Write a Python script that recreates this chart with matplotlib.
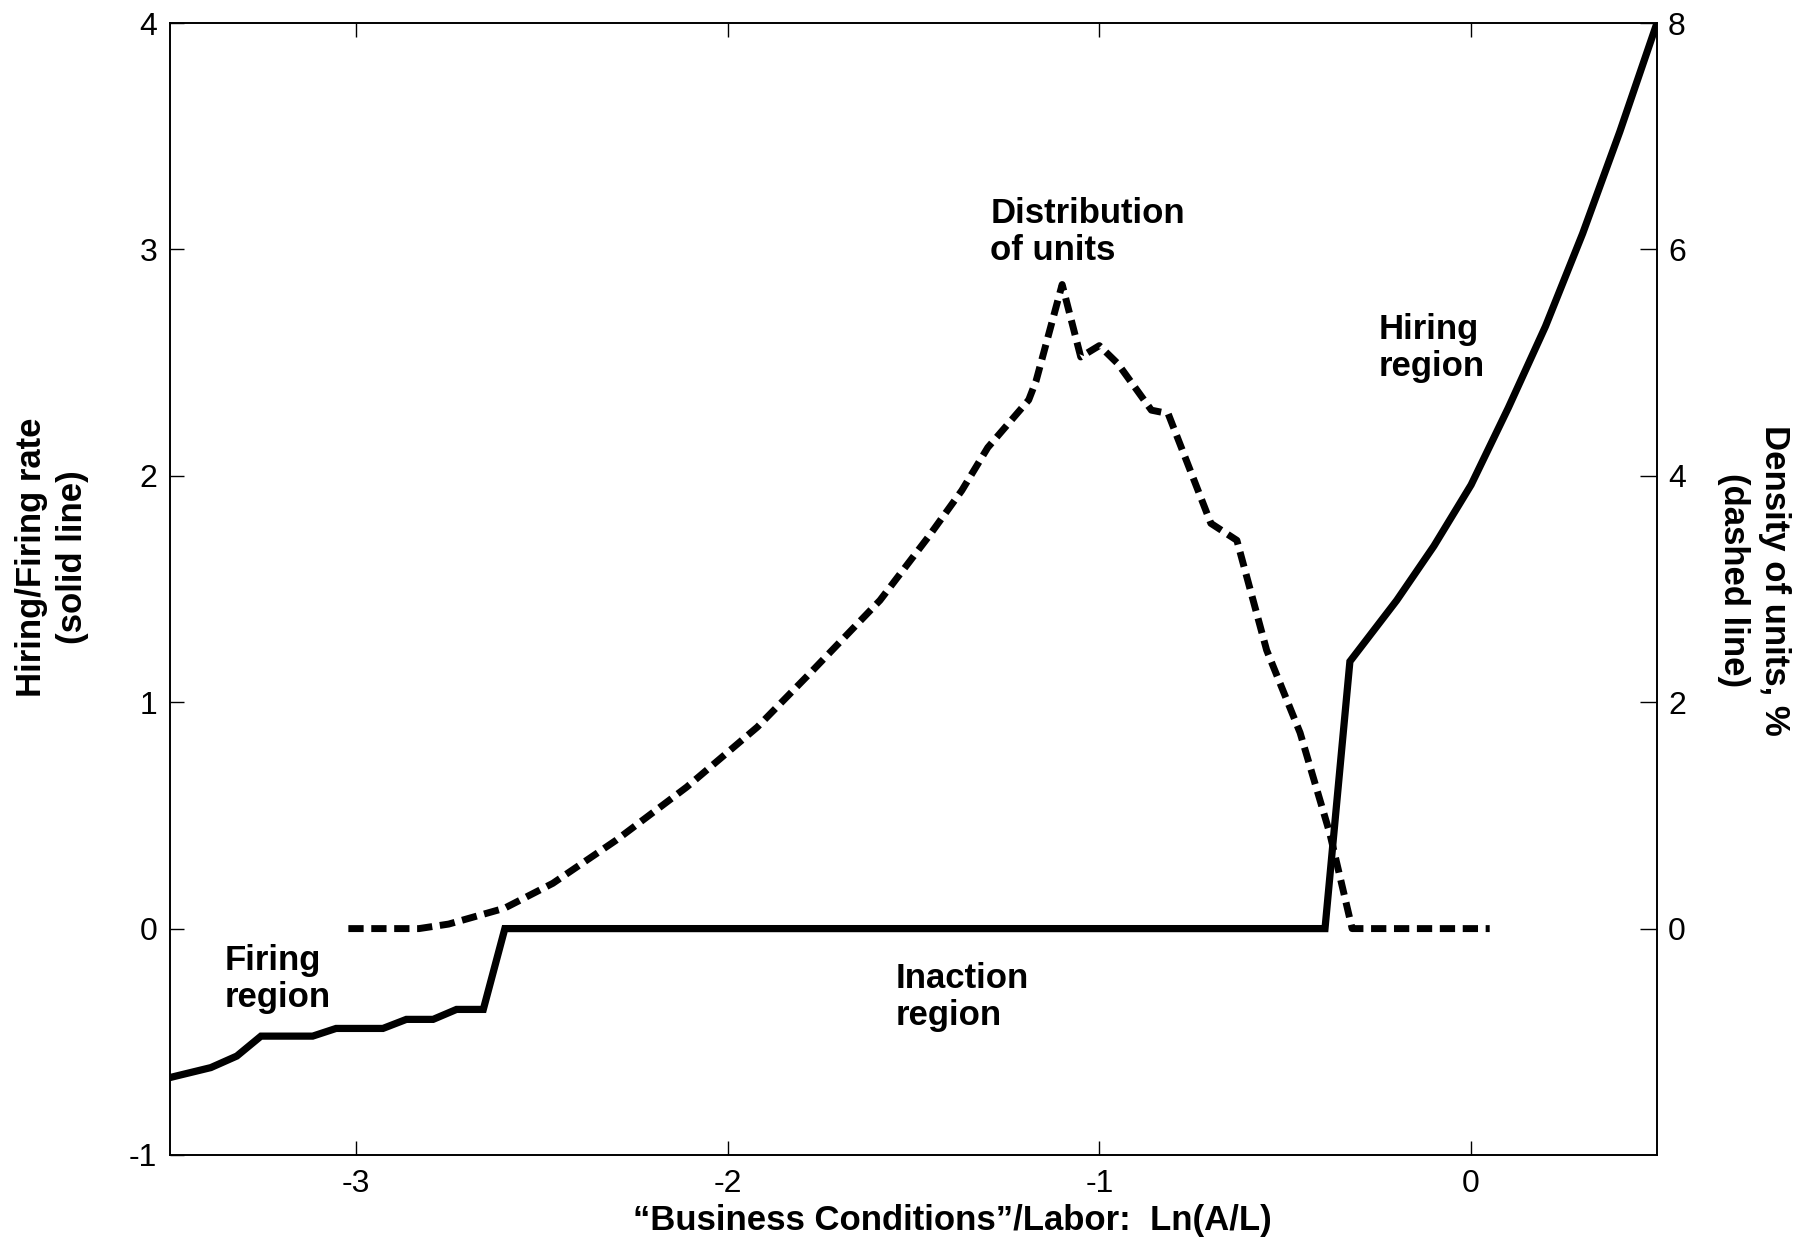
import matplotlib
matplotlib.use("Agg")
import matplotlib.pyplot as plt

plt.rcParams['font.family'] = ['Liberation Sans', 'DejaVu Sans']
plt.rcParams['axes.unicode_minus'] = False

# Hiring/firing rate (solid line, left axis)
rate_x = [-3.5, -3.39, -3.32, -3.255, -3.116, -3.053, -2.927, -2.864, -2.792, -2.729,
          -2.657, -2.599, -0.393, -0.326, -0.2, -0.1, 0.0, 0.1, 0.2, 0.3, 0.4, 0.5]
rate_y = [-0.658, -0.614, -0.563, -0.475, -0.475, -0.441, -0.441, -0.401, -0.401, -0.357,
          -0.357, 0.0, 0.0, 1.18, 1.45, 1.69, 1.96, 2.30, 2.66, 3.07, 3.52, 4.0]

# Density of units in % (dashed line, right axis)
dens_x = [-3.02, -2.83, -2.75, -2.60, -2.47, -2.30, -2.11, -1.92, -1.78, -1.59, -1.46,
          -1.37, -1.30, -1.19, -1.17, -1.10, -1.05, -1.00, -0.95, -0.86, -0.815, -0.70,
          -0.63, -0.55, -0.46, -0.38, -0.32, 0.05]
dens_y = [0.0, 0.0, 0.04, 0.18, 0.40, 0.78, 1.25, 1.78, 2.25, 2.90, 3.46,
          3.87, 4.25, 4.67, 4.84, 5.69, 5.05, 5.15, 4.99, 4.58, 4.55, 3.58,
          3.43, 2.46, 1.73, 0.84, 0.0, 0.0]

x_ticks = [-3, -2, -1, 0]
left_ticks = [-1, 0, 1, 2, 3, 4]
right_ticks = [0, 2, 4, 6, 8]

fig = plt.figure(figsize=(17.96, 12.45), dpi=100)
ax = fig.add_axes([0.0946, 0.0723, 0.8280, 0.9092])
ax2 = ax.twinx()

ax.plot(rate_x, rate_y, color='black', linewidth=5.2, solid_joinstyle='miter')
ax2.plot(dens_x, dens_y, color='black', linewidth=5, linestyle=(0, (2.2, 1.1)))

ax.set_xlim(-3.5, 0.5)
ax.set_ylim(-1, 4)
ax2.set_ylim(-2, 8)
ax.set_xticks(x_ticks)
ax.set_yticks(left_ticks)
ax2.set_yticks(right_ticks)

ax.tick_params(axis='x', direction='in', top=True, length=10, width=1, labelsize=23, pad=10)
ax.tick_params(axis='y', direction='in', length=10, width=1, labelsize=23, pad=9)
ax2.tick_params(axis='y', direction='in', length=12, width=1, labelsize=23, pad=8)
for a in (ax, ax2):
    for s in a.spines.values():
        s.set_linewidth(1.2)

ax.set_xlabel("\u201cBusiness Conditions\u201d/Labor:  Ln(A/L)", fontsize=25,
              fontweight='bold')
ax.set_ylabel("Hiring/Firing rate\n(solid line)", fontsize=25, fontweight='bold',
              linespacing=1.3)
ax2.set_ylabel("Density of units, %\n(dashed line)", fontsize=25, fontweight='bold',
               rotation=-90, linespacing=1.3)
ax.xaxis.set_label_coords(0.526, -0.043)
ax.yaxis.label.set_va('center')
ax.yaxis.set_label_coords(-0.0795, 0.528)
ax2.yaxis.label.set_va('center')
ax2.yaxis.set_label_coords(1.065, 0.508)

txt = dict(fontsize=25, fontweight='bold', ha='left', va='center', linespacing=1.15)
ax.text(-1.293, 3.076, "Distribution\nof units", **txt)
ax.text(-0.249, 2.566, "Hiring\nregion", **txt)
ax.text(-3.352, -0.222, "Firing\nregion", **txt)
ax.text(-1.549, -0.303, "Inaction\nregion", **txt)

fig.savefig("out.png", dpi=100)
